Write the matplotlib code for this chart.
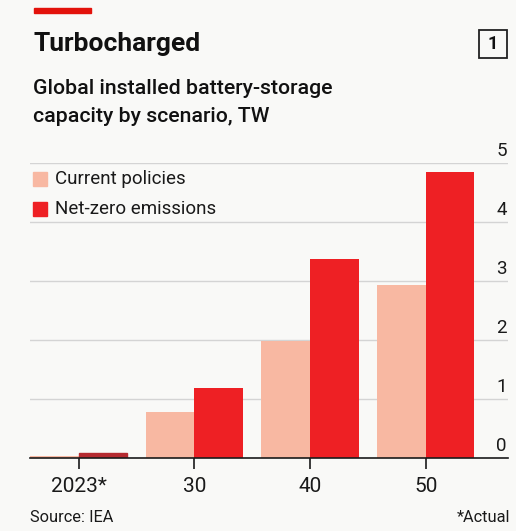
import numpy as np
import matplotlib.pyplot as plt
from matplotlib import rcParams
from matplotlib.patches import Rectangle

rcParams['font.family'] = ['Roboto', 'DejaVu Sans']

# data, TW
years = ['2023*', '30', '40', '50']
current_policies = [0.03, 0.78, 1.98, 2.94]
net_zero = [0.08, 1.19, 3.37, 4.84]
yticks = [0, 1, 2, 3, 4, 5]

bg = '#f9f9f7'
light = '#f8b8a2'
red = '#ee2024'
dark = '#1a1a1a'

fig = plt.figure(figsize=(5.16, 5.31), dpi=100, facecolor=bg)
ax = fig.add_axes([0.058, 0.1375, 0.9265, 0.5555], facecolor=bg)

x = np.arange(len(years))
w = 0.42
ax.bar(x - w / 2, current_policies, w, color=light, zorder=2)
ax.bar(x + w / 2, net_zero, w, color=red, zorder=2)
# 2023 actual bars drawn a bit darker in the original
ax.patches[len(years)].set_color('#b42a30')

ax.set_xlim(-0.42, 3.71)
ax.set_ylim(0, 5)
ax.set_xticks(x)
ax.set_xticklabels(years, fontsize=15, color=dark)
ax.tick_params(axis='x', length=8, width=1.2, color=dark, pad=6)
ax.set_yticks([])
for s in ['top', 'left', 'right']:
    ax.spines[s].set_visible(False)
ax.spines['bottom'].set_color(dark)
ax.spines['bottom'].set_linewidth(1.2)
ax.spines['bottom'].set_zorder(3)

for v in yticks:
    if v > 0:
        ax.axhline(v, color='#d4d4d4', lw=1, zorder=1)
    ax.text(3.70, v + 0.05, str(v), ha='right', va='bottom',
            fontsize=13.5, color=dark)

# legend
fig.patches.append(Rectangle((33 / 516, 1 - 186 / 531), 14 / 516, 14 / 531,
                             transform=fig.transFigure, color=light))
fig.patches.append(Rectangle((33 / 516, 1 - 216 / 531), 14 / 516, 14 / 531,
                             transform=fig.transFigure, color=red))
fig.text(55 / 516, 1 - 179 / 531, 'Current policies', fontsize=13.5,
         va='center', color=dark)
fig.text(55 / 516, 1 - 209 / 531, 'Net-zero emissions', fontsize=13.5,
         va='center', color=dark)

# header
fig.patches.append(Rectangle((34 / 516, 1 - 13 / 531), 57 / 516, 5 / 531,
                             transform=fig.transFigure, color='#e3120b'))
fig.text(33 / 516, 1 - 44 / 531, 'Turbocharged', fontsize=19,
         fontweight='bold', va='center', color='#111111')
fig.text(33 / 516, 1 - 89 / 531, 'Global installed battery-storage',
         fontsize=15.3, fontweight='medium', va='center', color='#111111')
fig.text(33 / 516, 1 - 116 / 531, 'capacity by scenario, TW',
         fontsize=15.3, fontweight='medium', va='center', color='#111111')
fig.patches.append(Rectangle((479 / 516, 1 - 58 / 531), 28 / 516, 28 / 531,
                             transform=fig.transFigure, fill=False,
                             ec='#222222', lw=1.3))
fig.text(493 / 516, 1 - 44 / 531, '1', fontsize=13, fontweight='bold',
         ha='center', va='center', color='#111111')

# footer
fig.text(30 / 516, 1 - 517 / 531, 'Source: IEA', fontsize=11.8,
         va='center', color=dark)
fig.text(510 / 516, 1 - 517 / 531, '*Actual', fontsize=11.8,
         ha='right', va='center', color=dark)

fig.savefig('out.png', dpi=100, facecolor=bg)
